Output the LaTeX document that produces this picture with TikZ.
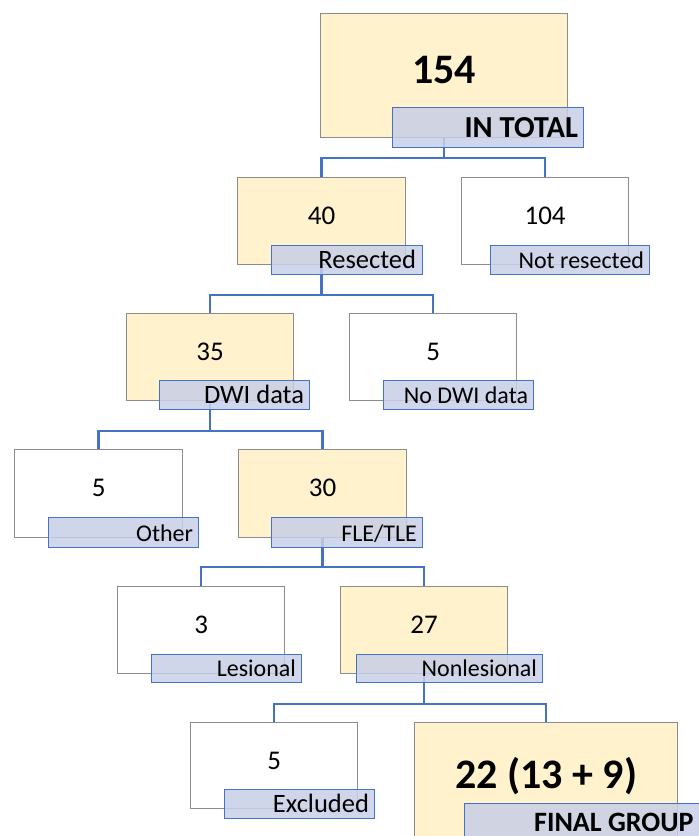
\documentclass[tikz,border=0pt]{standalone}
\usepackage{fontspec}
\setmainfont{Carlito}
\usetikzlibrary{calc}
\definecolor{boxyellow}{RGB}{255,242,204}
\definecolor{boxgray}{RGB}{140,140,140}
\definecolor{labfill}{RGB}{200,207,231}
\definecolor{labblue}{RGB}{68,114,196}
\begin{document}
\begin{tikzpicture}[x=1pt,y=-1pt,
  ybox/.style={draw=boxgray, line width=1.2pt, fill=boxyellow, anchor=north west, inner sep=0pt},
  wbox/.style={draw=boxgray, line width=1.2pt, fill=white, anchor=north west, inner sep=0pt},
  lab/.style={draw=labblue, line width=1.2pt, fill=labfill, fill opacity=0.85, anchor=north west, inner sep=0pt},
  num/.style={font=\fontsize{27}{30}\selectfont, inner sep=0pt},
  bignum/.style={font=\fontsize{42}{46}\selectfont\bfseries, inner sep=0pt},
  labtxt/.style={font=\fontsize{24}{28}\selectfont, anchor=base east, inner sep=0pt},
  labtxtl/.style={font=\fontsize{26.5}{30}\selectfont, anchor=base east, inner sep=0pt},
  biglabtxt/.style={font=\fontsize{28}{32}\selectfont\bfseries, inner sep=0pt},
  conn/.style={draw=labblue, line width=2.3pt}]
\useasboundingbox (0,0) rectangle (699,836);
\clip (0,0) rectangle (699,836);

% boxes
\node[ybox, minimum width=247pt, minimum height=124pt] (b154) at (320,13) {};
\node[ybox, minimum width=168pt, minimum height=87pt] (b40) at (237,177) {};
\node[wbox, minimum width=167pt, minimum height=87pt] (b104) at (461,177) {};
\node[ybox, minimum width=167pt, minimum height=87pt] (b35) at (126,313) {};
\node[wbox, minimum width=167pt, minimum height=87pt] (b5a) at (349,313) {};
\node[wbox, minimum width=168pt, minimum height=88pt] (b5b) at (14,449) {};
\node[ybox, minimum width=168pt, minimum height=88pt] (b30) at (238,449) {};
\node[wbox, minimum width=167pt, minimum height=87pt] (b3) at (117,586) {};
\node[ybox, minimum width=167pt, minimum height=87pt] (b27) at (340,586) {};
\node[wbox, minimum width=167pt, minimum height=86pt] (b5c) at (190,722) {};
\node[ybox, minimum width=263pt, minimum height=140pt] (bfin) at (414,722) {};

% numbers
\node[bignum] (n154) at ($(b154.north)+(0,57)$) {154};
\node[num] (n40) at ($(b40.north)+(0,39)$) {40};
\node[num] (n104) at ($(b104.north)+(0,39)$) {104};
\node[num] (n35) at ($(b35.north)+(0,39)$) {35};
\node[num] (n5a) at ($(b5a.north)+(0,39)$) {5};
\node[num] (n5b) at ($(b5b.north)+(0,39)$) {5};
\node[num] (n30) at ($(b30.north)+(0,39)$) {30};
\node[num] (n3) at ($(b3.north)+(0,39)$) {3};
\node[num] (n27) at ($(b27.north)+(0,39)$) {27};
\node[num] (n5c) at ($(b5c.north)+(0,39)$) {5};
\node[bignum] (nfin) at ($(bfin.north)+(0,54)$) {22 (13 + 9)};

% connectors
\coordinate (j1) at ($(b154.south)+(0,20)$);
\draw[conn] (b154.south) -- (j1);
\draw[conn] (j1) -| (b40.north);
\draw[conn] (j1) -| (b104.north);
\coordinate (j2) at ($(b40.south)+(0,30)$);
\draw[conn] (b40.south) -- (j2);
\draw[conn] (j2) -| (b35.north);
\draw[conn] (j2) -| (b5a.north);
\coordinate (j3) at ($(b35.south)+(0,30)$);
\draw[conn] (b35.south) -- (j3);
\draw[conn] (j3) -| (b5b.north);
\draw[conn] (j3) -| (b30.north);
\coordinate (j4) at ($(b30.south)+(0,29)$);
\draw[conn] (b30.south) -- (j4);
\draw[conn] (j4) -| (b3.north);
\draw[conn] (j4) -| (b27.north);
\coordinate (j5) at ($(b27.south)+(0,30)$);
\draw[conn] (b27.south) -- (j5);
\draw[conn] (j5) -| (b5c.north);
\draw[conn] (j5) -| (bfin.north);

% labels
\node[lab, minimum width=191pt, minimum height=40pt] (l154) at (392,107) {};
\node[lab, minimum width=151pt, minimum height=29pt] (l40) at (271,245) {};
\node[lab, minimum width=159pt, minimum height=29pt] (l104) at (490,245) {};
\node[lab, minimum width=150pt, minimum height=29pt] (l35) at (159,380) {};
\node[lab, minimum width=150pt, minimum height=29pt] (l5a) at (383,380) {};
\node[lab, minimum width=150pt, minimum height=30pt] (l5b) at (48,517) {};
\node[lab, minimum width=151pt, minimum height=30pt] (l30) at (271,517) {};
\node[lab, minimum width=150pt, minimum height=28pt] (l3) at (151,654) {};
\node[lab, minimum width=186pt, minimum height=28pt] (l27) at (356,654) {};
\node[lab, minimum width=150pt, minimum height=29pt] (l5c) at (224,789) {};
\node[lab, minimum width=260pt, minimum height=50pt] (lfin) at (464,803) {};

% label texts
\node[biglabtxt, font=\fontsize{30.5}{34}\selectfont\bfseries, anchor=base east] (t154) at ($(l154.south east)+(-6,-11)$) {IN TOTAL};
\node[labtxtl] (t40) at ($(l40.south east)+(-7,-7)$) {Resected};
\node[labtxt] (t104) at ($(l104.south east)+(-6,-7)$) {Not resected};
\node[labtxtl] (t35) at ($(l35.south east)+(-6,-7)$) {DWI data};
\node[labtxt] (t5a) at ($(l5a.south east)+(-6,-7)$) {No DWI data};
\node[labtxt] (t5b) at ($(l5b.south east)+(-6,-7)$) {Other};
\node[labtxt] (t30) at ($(l30.south east)+(-6,-7)$) {FLE/TLE};
\node[labtxt] (t3) at ($(l3.south east)+(-6,-7)$) {Lesional};
\node[labtxt] (t27) at ($(l27.south east)+(-6,-7)$) {Nonlesional};
\node[labtxtl] (t5c) at ($(l5c.south east)+(-6,-7)$) {Excluded};
\node[biglabtxt, anchor=base west] (tfin) at (534,831) {FINAL GROUP};
\end{tikzpicture}
\end{document}
